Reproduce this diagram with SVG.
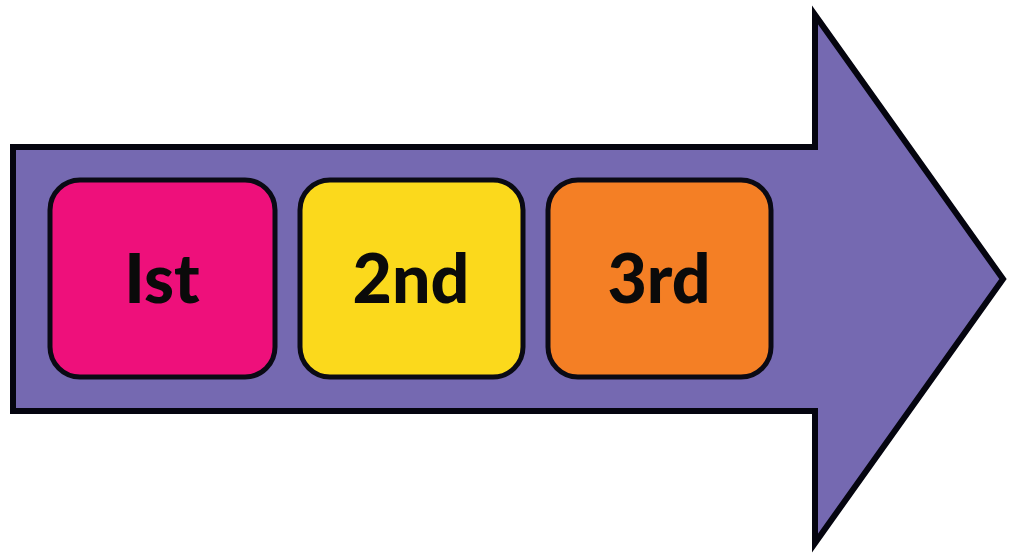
<svg xmlns="http://www.w3.org/2000/svg" width="1009" height="554" viewBox="0 0 1009 554">
<style>
.box{stroke:#0a0a14;stroke-width:5}
.lbl{font-family:Lato,"Liberation Sans",sans-serif;font-weight:900;font-size:68px;fill:#0a0a0a;text-anchor:middle}
</style>
<rect width="1009" height="554" fill="#ffffff"/>
<g id="arrow">
<path d="M13,147 L815,147 L815,15 L1003,279 L815,543 L815,411 L13,411 Z" fill="#7569b1" stroke="#05050f" stroke-width="6" stroke-linejoin="miter" stroke-miterlimit="10"/>
</g>
<g id="node-1st">
<rect class="box" x="50" y="180" width="225" height="197" rx="30" fill="#ee107b"/>
<text class="lbl" x="162" y="303">Ist</text>
</g>
<g id="node-2nd">
<rect class="box" x="300" y="180" width="223" height="197" rx="30" fill="#fbd91c"/>
<text class="lbl" x="411" y="303">2nd</text>
</g>
<g id="node-3rd">
<rect class="box" x="548" y="180" width="223" height="197" rx="30" fill="#f47f25"/>
<text class="lbl" x="659" y="303">3rd</text>
</g>
<g id="connectors"></g>
</svg>
